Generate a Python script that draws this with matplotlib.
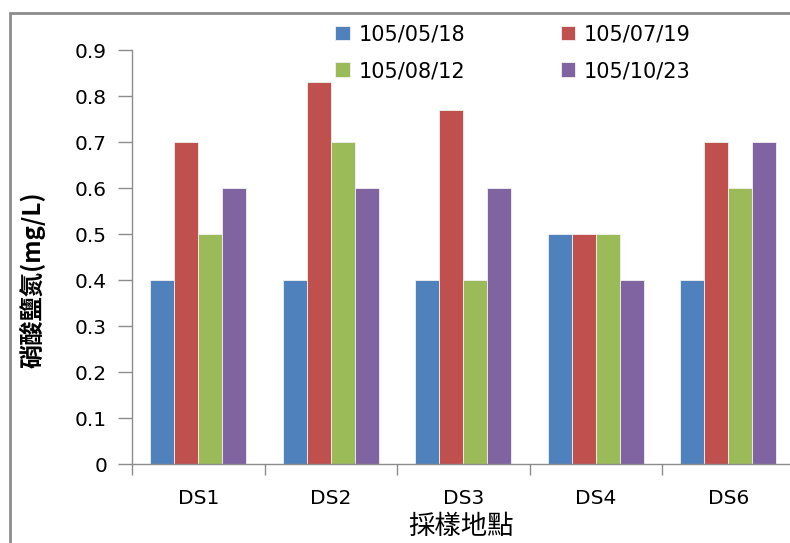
import matplotlib
matplotlib.use("Agg")
import matplotlib.pyplot as plt
import numpy as np
from matplotlib.patches import Rectangle

plt.rcParams['font.family'] = ['DejaVu Sans', 'Noto Sans CJK TC']

sites = ["DS1", "DS2", "DS3", "DS4", "DS6"]
dates = ["105/05/18", "105/07/19", "105/08/12", "105/10/23"]
v_0518 = [0.4, 0.4, 0.4, 0.5, 0.4]
v_0719 = [0.7, 0.83, 0.77, 0.5, 0.7]
v_0812 = [0.5, 0.7, 0.4, 0.5, 0.6]
v_1023 = [0.6, 0.6, 0.6, 0.4, 0.7]
series = [v_0518, v_0719, v_0812, v_1023]
colors = ["#4F81BD", "#C0504D", "#9BBB59", "#8064A2"]
yticks = [0, 0.1, 0.2, 0.3, 0.4, 0.5, 0.6, 0.7, 0.8, 0.9]
ytick_labels = ["0", "0.1", "0.2", "0.3", "0.4", "0.5", "0.6", "0.7", "0.8", "0.9"]

W, H = 790, 543
fig = plt.figure(figsize=(W / 100, H / 100), dpi=100)
ax = fig.add_axes([132 / W, (H - 464) / H, 662.5 / W, 414 / H])

x = np.arange(len(sites))
bw = 1 / 5.5
bars = []
for i, (vals, c, lab) in enumerate(zip(series, colors, dates)):
    b = ax.bar(x + (i - 1.5) * bw, vals, width=bw, color=c, label=lab,
               edgecolor="#f2f2f2", linewidth=0.6)
    bars.append(b)

ax.set_xlim(-0.5, len(sites) - 0.5)
ax.set_ylim(0, 0.9)
ax.set_yticks(yticks)
ax.set_yticklabels(ytick_labels)

# category boundaries carry the tick marks; names sit in the middle
ax.set_xticks(np.arange(-0.5, len(sites), 1.0))
ax.set_xticklabels([])
ax.set_xticks(x, minor=True)
ax.set_xticklabels(sites, minor=True)
ax.tick_params(axis="x", which="major", length=8, width=1, color="#8c8c8c", direction="out")
ax.tick_params(axis="x", which="minor", length=0, pad=18, labelsize=14.5)
ax.tick_params(axis="y", length=10, width=1, color="#8c8c8c", direction="out", pad=8, labelsize=14.5)

for s in ["top", "right"]:
    ax.spines[s].set_visible(False)
for s in ["left", "bottom"]:
    ax.spines[s].set_color("#8c8c8c")
    ax.spines[s].set_linewidth(1)

fig.text(32 / W, 1 - 280 / H, "硝酸鹽氮(mg/L)", rotation=90, ha="center", va="center",
         fontsize=17.5, fontweight="bold", family=["Noto Sans CJK TC", "DejaVu Sans"])
fig.text(461 / W, 1 - 526 / H, "採樣地點", ha="center", va="center",
         fontsize=19, family=["Noto Sans CJK TC", "DejaVu Sans"])

# legend reads row by row: two dates per row
order = [0, 2, 1, 3]
fig.legend([bars[i] for i in order], [dates[i] for i in order],
           loc="upper left", bbox_to_anchor=(325 / W, 1 - 14 / H), ncol=2,
           frameon=False, fontsize=15, handlelength=0.7, handleheight=0.7,
           handletextpad=0.4, columnspacing=4.6, labelspacing=0.8, borderpad=0)

fig.patches.append(Rectangle((10 / W, -0.1), 1.2, 1 - 13 / H + 0.1,
                             transform=fig.transFigure, fill=False,
                             edgecolor="#8c8c8c", linewidth=2))

fig.savefig("out.png", dpi=100)
